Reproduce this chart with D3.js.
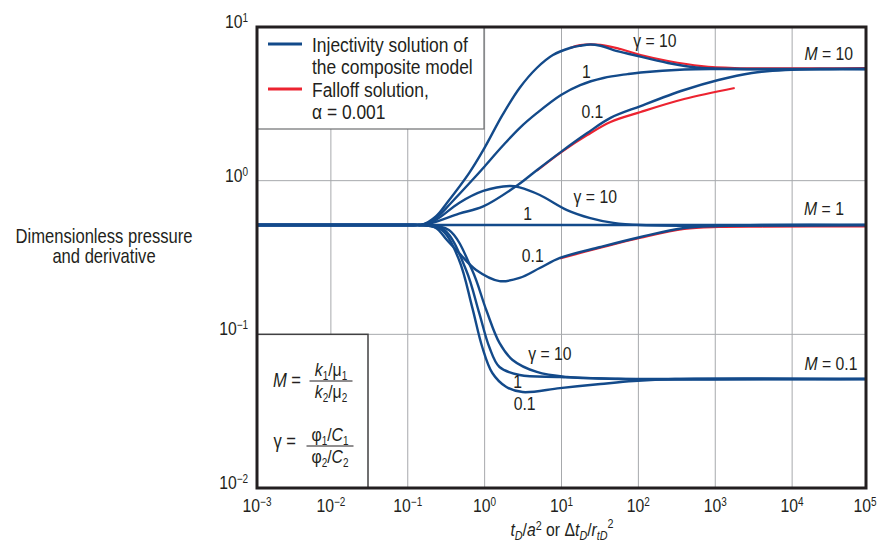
<!DOCTYPE html>
<html>
<head>
<meta charset="utf-8">
<script src="https://cdn.jsdelivr.net/npm/d3@7"></script>
<style>
  body { margin: 0; background: #fff; }
  svg text { font-family: "Liberation Sans Narrow", "Liberation Sans", Arial, sans-serif; fill: #231f20; }
</style>
</head>
<body>
<svg id="chart" width="877" height="549"></svg>
<script>
// axis ticks
const xTicks = [1e-3, 1e-2, 1e-1, 1e0, 1e1, 1e2, 1e3, 1e4, 1e5];
const yTicks = [1e-2, 1e-1, 1e0, 1e1];

// injectivity solution of the composite model, [tD, value]
const m10g10 = [[0.001, 0.515], [0.12, 0.515], [0.152, 0.515], [0.232, 0.585], [0.323, 0.716], [0.628, 1.12],
  [0.959, 1.58], [1.71, 2.68], [2.85, 4.01], [4.77, 5.41], [7.73, 6.57], [12.9, 7.30], [17.5, 7.55],
  [23.7, 7.7], [32.1, 7.55], [47.5, 7.08], [86.9, 6.57], [243, 5.83], [659, 5.41], [1790, 5.33], [1e5, 5.33]];
const m10g1 = [[0.001, 0.515], [0.12, 0.515], [0.152, 0.515], [0.232, 0.57], [0.365, 0.716], [0.731, 1.04],
  [0.959, 1.21], [1.71, 1.68], [2.85, 2.20], [4.77, 2.75], [9.85, 3.61], [17.5, 4.19], [35.1, 4.66],
  [72.4, 4.94], [107, 5.06], [394, 5.29], [1210, 5.33], [1e5, 5.33]];
const m10g01 = [[0.001, 0.515], [0.12, 0.515], [0.152, 0.515], [0.232, 0.54], [0.465, 0.61], [0.959, 0.68],
  [2.7, 0.937], [4.77, 1.17], [9.85, 1.54], [21.6, 2.04], [43.4, 2.56], [107, 3.06], [394, 3.89],
  [1100, 4.52], [2990, 5.02], [8130, 5.25], [24900, 5.33], [1e5, 5.33]];
const m1g10 = [[0.001, 0.515], [0.12, 0.515], [0.152, 0.515], [0.232, 0.555], [0.465, 0.716], [0.959, 0.857],
  [2.11, 0.923], [2.85, 0.905], [5.22, 0.807], [11.8, 0.644], [23.7, 0.571], [47.5, 0.531], [107, 0.515],
  [1e5, 0.515]];
const m1g1 = [[0.001, 0.515], [1e5, 0.515]];
const m1g01 = [[0.001, 0.515], [0.12, 0.515], [0.152, 0.515], [0.232, 0.492], [0.323, 0.411], [0.465, 0.338],
  [0.776, 0.262], [1.56, 0.222], [2.85, 0.233], [5.22, 0.270], [9.55, 0.314], [32.1, 0.370], [107, 0.430],
  [394, 0.492], [1100, 0.507], [4050, 0.515], [1e5, 0.515]];
const m01g10 = [[0.001, 0.515], [0.12, 0.515], [0.152, 0.515], [0.343, 0.478], [0.687, 0.262], [1.05, 0.144],
  [1.56, 0.0879], [2.31, 0.0681], [4.77, 0.0569], [11.8, 0.0528], [53.6, 0.0515], [300, 0.0512], [1e5, 0.0512]];
const m01g1 = [[0.001, 0.515], [0.12, 0.515], [0.152, 0.515], [0.3, 0.478], [0.574, 0.262], [0.849, 0.138],
  [1.15, 0.0827], [1.56, 0.0613], [2.85, 0.0544], [9.55, 0.0528], [58.6, 0.0512], [1e5, 0.0512]];
const m01g01 = [[0.001, 0.515], [0.12, 0.515], [0.152, 0.515], [0.277, 0.478], [0.465, 0.305], [0.687, 0.151],
  [0.931, 0.0827], [1.26, 0.056], [1.92, 0.0454], [3.12, 0.0421], [9.55, 0.0447], [32.1, 0.0475],
  [86.9, 0.0497], [300, 0.0512], [1e5, 0.0512]];

// falloff solution, alpha = 0.001
const falloffM10g10 = [[12.9, 7.30], [17.5, 7.62], [32.1, 7.66], [58.6, 7.19], [107, 6.57], [243, 6.01],
  [659, 5.57], [1790, 5.41], [1e5, 5.41]];
const falloffM10g01 = [[4.77, 1.16], [9.85, 1.53], [21.6, 1.98], [43.4, 2.41], [107, 2.80], [394, 3.40], [1790, 4.01]];
const falloffM1g01 = [[9.55, 0.312], [32.1, 0.366], [107, 0.425], [394, 0.485], [1100, 0.5], [4050, 0.503], [1e5, 0.503]];

const injectivity = [m10g10, m10g1, m10g01, m1g10, m1g1, m1g01, m01g10, m01g1, m01g01];
const falloff = [falloffM10g10, falloffM10g01, falloffM1g01];

// curve labels: text, tD, value
const gammaLabels = [
  ["γ = 10", 164, 7.41], ["1", 21, 4.66], ["0.1", 25.2, 2.56],
  ["γ = 10", 27.5, 0.716], ["1", 3.63, 0.554], ["0.1", 4.22, 0.296],
  ["γ = 10", 7.06, 0.0681], ["1", 2.68, 0.0448], ["0.1", 3.31, 0.0322]
];
const mLabels = [["10", 30000, 6.10], ["1", 26000, 0.598], ["0.1", 32000, 0.0586]];

const blue = "#134a8a";
const red = "#ec2330";
const ink = "#231f20";
const squeeze = 0.83; // condensed type

const svg = d3.select("#chart");
const plot = { left: 257, right: 866, top: 27, bottom: 488 };

const x = d3.scaleLog().domain([1e-3, 1e5]).range([254, 869]);
const y = d3.scaleLog().domain([1e-2, 1e1]).range([488, 27]);

const expOf = (v) => Math.round(Math.log10(v));
const supText = (e) => (e < 0 ? "\u2212" + (-e) : String(e));
const at = (px, py) => `translate(${px},${py}) scale(${squeeze},1)`;

function ntext(parent, px, py, size) {
  return parent.append("text")
    .attr("transform", at(px, py))
    .style("font-size", size + "px");
}

// gridlines
svg.append("g")
  .selectAll("line")
  .data(xTicks.slice(1, -1))
  .join("line")
  .attr("x1", (d) => x(d)).attr("x2", (d) => x(d))
  .attr("y1", plot.top).attr("y2", plot.bottom)
  .attr("stroke", "#a7a9ac").attr("stroke-width", 1);
svg.append("g")
  .selectAll("line")
  .data(yTicks.slice(1, -1))
  .join("line")
  .attr("x1", plot.left).attr("x2", plot.right)
  .attr("y1", (d) => y(d)).attr("y2", (d) => y(d))
  .attr("stroke", "#a7a9ac").attr("stroke-width", 1);

// curves
svg.append("clipPath").attr("id", "clip")
  .append("rect")
  .attr("x", plot.left).attr("y", plot.top)
  .attr("width", plot.right - plot.left).attr("height", plot.bottom - plot.top);

const line = d3.line()
  .x((d) => x(d[0]))
  .y((d) => y(d[1]))
  .curve(d3.curveCatmullRom.alpha(0.5));

const curves = svg.append("g").attr("clip-path", "url(#clip)");
curves.selectAll("path.falloff")
  .data(falloff)
  .join("path")
  .attr("class", "falloff")
  .attr("d", line)
  .attr("fill", "none")
  .attr("stroke", red)
  .attr("stroke-width", 2.2);
curves.selectAll("path.injectivity")
  .data(injectivity)
  .join("path")
  .attr("class", "injectivity")
  .attr("d", line)
  .attr("fill", "none")
  .attr("stroke", blue)
  .attr("stroke-width", 2.4);

// legend box
const legend = svg.append("g");
legend.append("rect")
  .attr("x", plot.left).attr("y", plot.top)
  .attr("width", 227).attr("height", 102)
  .attr("fill", "#fff").attr("stroke", "#6d6e71").attr("stroke-width", 1.2);
legend.append("line")
  .attr("x1", 268).attr("x2", 302).attr("y1", 44).attr("y2", 44)
  .attr("stroke", blue).attr("stroke-width", 3);
legend.append("line")
  .attr("x1", 268).attr("x2", 302).attr("y1", 89).attr("y2", 89)
  .attr("stroke", red).attr("stroke-width", 3);
["Injectivity solution of", "the composite model", "Falloff solution,", "\u03b1 = 0.001"].forEach((t, i) => {
  ntext(legend, 312, 52 + i * 22.3, 21).text(t);
});

// parameter box
const params = svg.append("g");
params.append("rect")
  .attr("x", plot.left).attr("y", y(0.1))
  .attr("width", 111).attr("height", plot.bottom - y(0.1))
  .attr("fill", "#fff").attr("stroke", "#414042").attr("stroke-width", 1.5);

function fraction(g, cx, yNum, yBar, yDen, w, num, den) {
  [[num, yNum], [den, yDen]].forEach(([parts, yy]) => {
    const t = ntext(g, cx, yy, 19).attr("text-anchor", "middle");
    parts.forEach(([s, style]) => {
      const ts = t.append("tspan").text(s);
      if (style === "i") ts.style("font-style", "italic");
      if (style === "sub") ts.attr("dy", 4).style("font-size", "12px");
      if (style === "after") ts.attr("dy", -4);
    });
  });
  g.append("line")
    .attr("x1", cx - w / 2).attr("x2", cx + w / 2)
    .attr("y1", yBar).attr("y2", yBar)
    .attr("stroke", ink).attr("stroke-width", 1);
}

const mText = ntext(params, 301, 387, 20).attr("text-anchor", "end");
mText.append("tspan").text("M").style("font-style", "italic");
mText.append("tspan").text(" =");
fraction(params, 331, 376, 381, 398, 43,
  [["k", "i"], ["1", "sub"], ["/", "after"], ["\u03bc", ""], ["1", "sub"]],
  [["k", "i"], ["2", "sub"], ["/", "after"], ["\u03bc", ""], ["2", "sub"]]);

ntext(params, 296, 448, 20).attr("text-anchor", "end").text("\u03b3 =");
fraction(params, 330, 441, 446, 463, 47,
  [["\u03c6", ""], ["1", "sub"], ["/", "after"], ["C", "i"], ["1", "sub"]],
  [["\u03c6", ""], ["2", "sub"], ["/", "after"], ["C", "i"], ["2", "sub"]]);

// frame
svg.append("rect")
  .attr("x", plot.left).attr("y", plot.top)
  .attr("width", plot.right - plot.left).attr("height", plot.bottom - plot.top)
  .attr("fill", "none").attr("stroke", ink).attr("stroke-width", 3);

// tick labels
function powerLabel(sel) {
  sel.each(function (d) {
    const t = d3.select(this);
    t.append("tspan").text("10");
    t.append("tspan").attr("dy", -6).style("font-size", "12px").text(supText(expOf(d)));
  });
}
svg.append("g")
  .selectAll("text")
  .data(xTicks)
  .join("text")
  .attr("transform", (d) => at(Math.min(Math.max(x(d), plot.left), plot.right - 1), 512))
  .attr("text-anchor", "middle")
  .style("font-size", "19px")
  .call(powerLabel);
svg.append("g")
  .selectAll("text")
  .data(yTicks)
  .join("text")
  .attr("transform", (d) => at(248, y(d) + 1))
  .attr("text-anchor", "end")
  .style("font-size", "19px")
  .call(powerLabel);

// curve labels
svg.append("g")
  .selectAll("text")
  .data(gammaLabels)
  .join("text")
  .attr("transform", (d) => at(x(d[1]), y(d[2])))
  .attr("text-anchor", "middle")
  .style("font-size", "19px")
  .text((d) => d[0]);
svg.append("g")
  .selectAll("text")
  .data(mLabels)
  .join("text")
  .attr("transform", (d) => at(x(d[1]), y(d[2])))
  .attr("text-anchor", "middle")
  .style("font-size", "19px")
  .each(function (d) {
    const t = d3.select(this);
    t.append("tspan").text("M").style("font-style", "italic");
    t.append("tspan").text(" = " + d[0]);
  });

// axis titles
const yTitle = ntext(svg, 104, 243, 20).attr("text-anchor", "middle");
yTitle.append("tspan").attr("x", 0).attr("y", 0).text("Dimensionless pressure");
yTitle.append("tspan").attr("x", 0).attr("y", 20).text("and derivative");

const xTitle = ntext(svg, 562, 536, 19).attr("text-anchor", "middle");
[["t", "i", 0], ["D", "isub", 4], ["/", "", -4], ["a", "i", 0], ["2", "sup", -6], [" or \u0394", "", 6],
 ["t", "i", 0], ["D", "isub", 4], ["/", "", -4], ["r", "i", 0], ["tD", "isub", 4], ["2", "sup", -12]]
  .forEach(([s, style, dy]) => {
    const ts = xTitle.append("tspan").text(s);
    if (dy) ts.attr("dy", dy);
    if (style.startsWith("i")) ts.style("font-style", "italic");
    if (style.endsWith("sub") || style === "sup") ts.style("font-size", "13px");
  });
</script>
</body>
</html>
